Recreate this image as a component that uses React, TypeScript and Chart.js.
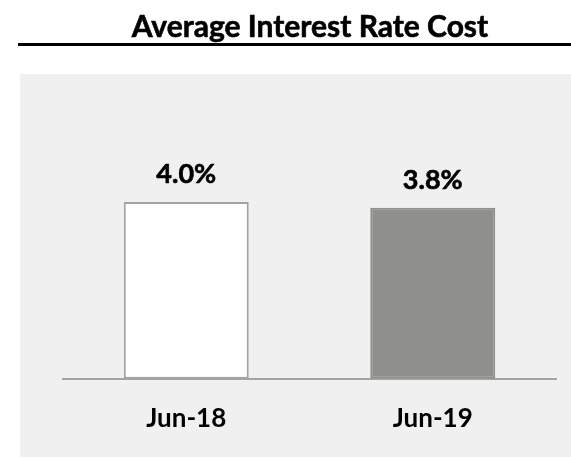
import React, { useEffect, useRef } from "react";
import { Chart, registerables } from "chart.js";

Chart.register(...registerables);

const TITLE = "Average Interest Rate Cost";
const categories = ["Jun-18", "Jun-19"];
const rates = [3.97, 3.84];
const barFills = ["#ffffff", "#8f8f8c"];
const barBorders = ["#a3a3a3", "#8f8f8c"];

const FONT = "Lato, 'Open Sans', 'DejaVu Sans', sans-serif";

const decorPlugin = {
  id: "decor",
  beforeDraw(chart: any) {
    const ctx = chart.ctx;
    ctx.save();
    ctx.fillStyle = "#ffffff";
    ctx.fillRect(0, 0, chart.width, chart.height);
    ctx.fillStyle = "#f0f0f0";
    ctx.fillRect(20, 74, chart.width - 20, 383);
    ctx.fillStyle = "#000000";
    ctx.fillRect(18, 43, chart.width - 18, 3);
    ctx.font = `bold 30px ${FONT}`;
    ctx.textAlign = "center";
    ctx.textBaseline = "alphabetic";
    ctx.lineWidth = 0.6;
    ctx.strokeStyle = "#000000";
    ctx.fillText(TITLE, 310, 37);
    ctx.strokeText(TITLE, 310, 37);
    ctx.restore();
  },
  afterDatasetsDraw(chart: any) {
    const ctx = chart.ctx;
    const meta = chart.getDatasetMeta(0);
    ctx.save();
    ctx.font = `bold 27px ${FONT}`;
    ctx.fillStyle = "#000000";
    ctx.strokeStyle = "#000000";
    ctx.lineWidth = 0.6;
    ctx.textAlign = "center";
    ctx.textBaseline = "alphabetic";
    meta.data.forEach((el: any, i: number) => {
      const v = chart.data.datasets[0].data[i] as number;
      const t = v.toFixed(1) + "%";
      ctx.fillText(t, el.x, el.y - 19);
      ctx.strokeText(t, el.x, el.y - 19);
    });
    ctx.restore();
  },
};

export default function App() {
  const ref = useRef<HTMLCanvasElement>(null);
  useEffect(() => {
    if (!ref.current) return;
    const chart = new Chart(ref.current, {
      type: "bar",
      data: {
        labels: categories,
        datasets: [
          {
            data: rates,
            backgroundColor: barFills,
            borderColor: barBorders,
            borderWidth: 2,
            borderSkipped: false,
            barPercentage: 0.507,
            categoryPercentage: 1,
          },
        ],
      },
      options: {
        animation: false,
        responsive: false,
        devicePixelRatio: 1,
        layout: { padding: { left: 63, right: 15, top: 156, bottom: 0 } },
        plugins: {
          legend: { display: false },
          title: { display: false },
          tooltip: { enabled: false },
        },
        scales: {
          x: {
            grid: { display: false, drawTicks: false },
            border: { display: true, color: "#a3a3a3", width: 2 },
            ticks: {
              color: "#000000",
              font: { family: FONT, size: 26, weight: "bold" },
              padding: 24,
            },
          },
          y: {
            display: false,
            min: 0,
            max: 5,
          },
        },
      },
      plugins: [decorPlugin],
    });
    return () => chart.destroy();
  }, []);
  return (
    <div style={{ position: "absolute", left: 0, top: 0, width: 571, height: 458 }}>
      <canvas ref={ref} width={571} height={458} style={{ display: "block" }} />
    </div>
  );
}
